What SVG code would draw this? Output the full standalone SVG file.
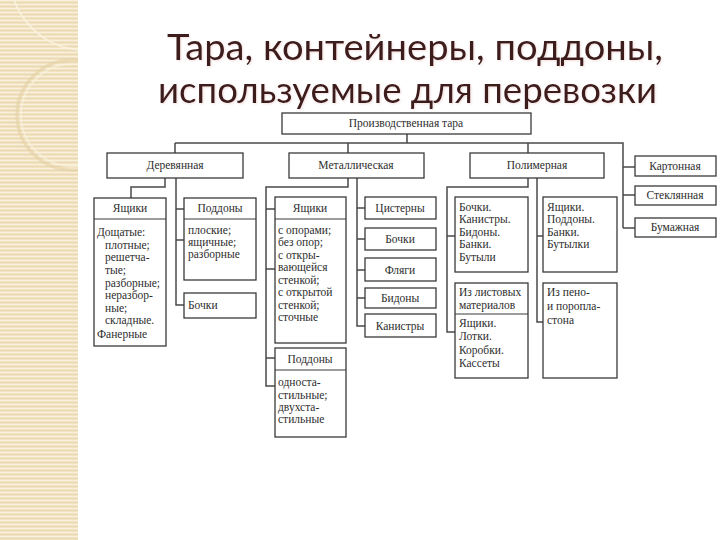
<svg xmlns="http://www.w3.org/2000/svg" width="720" height="540" viewBox="0 0 720 540">
<defs>
<pattern id="stripe" width="8" height="4" patternUnits="userSpaceOnUse">
<rect width="8" height="4" fill="#F1E3C3"/>
<rect y="0" width="8" height="1" fill="#F9F0DC"/>
<rect y="2" width="8" height="1" fill="#E9D8B0"/>
</pattern>
<clipPath id="strip"><rect x="0" y="0" width="78" height="540"/></clipPath>
<filter id="sh" x="-5%" y="-20%" width="110%" height="140%">
<feDropShadow dx="1" dy="1" stdDeviation="1" flood-color="#D9A0A0" flood-opacity="0.35"/>
</filter>
</defs>
<style>
.box{fill:#fff;stroke:#3a3a3a;stroke-width:1.3}
.sep{stroke:#3a3a3a;stroke-width:1.2;fill:none}
.con{fill:none;stroke:#4a4a4a;stroke-width:1.5}
.t{font-family:"Liberation Serif","DejaVu Serif",serif;font-size:11.5px;fill:#2e2e2e}
.c{text-anchor:middle}
.title{font-family:Lato,"Open Sans","Liberation Sans",sans-serif;font-size:36px;fill:#3E1B1B}
</style>
<rect width="720" height="540" fill="#fff"/>
<g id="decor">
<rect x="0" y="0" width="78" height="540" fill="url(#stripe)"/>
<g clip-path="url(#strip)">
<circle cx="72" cy="115" r="55" fill="none" stroke="#E6D3A8" stroke-width="3" opacity="0.7"/>
<circle cx="72" cy="115" r="51" fill="none" stroke="#FAF2DF" stroke-width="1.5" opacity="0.8"/>
<circle cx="85" cy="-25" r="75" fill="none" stroke="#FAF2DF" stroke-width="2" opacity="0.8"/>
</g>
</g>
<g id="title" filter="url(#sh)">
<text class="title" x="167" y="60" textLength="496" lengthAdjust="spacingAndGlyphs">Тара, контейнеры, поддоны,</text>
<text class="title" x="158" y="103" textLength="499" lengthAdjust="spacingAndGlyphs">используемые для перевозки</text>
</g>
<g id="connectors">
<path class="con" d="M407 134V143M175 143H623V228M175 143V153M348 143V153M528 143V153M623 167H635M623 195H635M623 228H635"/>
<path class="con" d="M165 178V187H131V198M176 178V305H184M176 209H184M176 240H184"/>
<path class="con" d="M348 178V187H266V386H275M266 209H275M266 269H275M266 358H275M357 178V326H365M357 208H365M357 239H365M357 270H365M357 298H365"/>
<path class="con" d="M528 178V187H447V332H455M447 236H455M537 178V322H543M537 236H543"/>
</g>
<g id="n-root"><rect class="box" x="282" y="113" width="249" height="21"/><text class="t c" x="406" y="127">Производственная тара</text></g>
<g id="n-wood"><rect class="box" x="107" y="153" width="136" height="25"/><text class="t c" x="175" y="169">Деревянная</text></g>
<g id="n-metal"><rect class="box" x="289" y="153" width="135" height="25"/><text class="t c" x="356" y="169">Металлическая</text></g>
<g id="n-poly"><rect class="box" x="470" y="153" width="134" height="25"/><text class="t c" x="537" y="169">Полимерная</text></g>
<g id="n-karton"><rect class="box" x="635" y="156" width="81" height="20"/><text class="t c" x="675" y="170">Картонная</text></g>
<g id="n-steklo"><rect class="box" x="635" y="186" width="81" height="19"/><text class="t c" x="675" y="199">Стеклянная</text></g>
<g id="n-bumaga"><rect class="box" x="635" y="218" width="81" height="19"/><text class="t c" x="675" y="231">Бумажная</text></g>
<g id="n-wood-box">
<rect class="box" x="94" y="198" width="72" height="148"/><path class="sep" d="M94 219H166"/>
<text class="t c" x="130" y="212">Ящики</text>
<text class="t" x="97" y="236">Дощатые:</text>
<text class="t" x="105" y="249">плотные;</text>
<text class="t" x="105" y="261">решетча-</text>
<text class="t" x="105" y="274">тые;</text>
<text class="t" x="105" y="287">разборные;</text>
<text class="t" x="105" y="299">неразбор-</text>
<text class="t" x="105" y="312">ные;</text>
<text class="t" x="105" y="324">складные.</text>
<text class="t" x="97" y="338">Фанерные</text>
</g>
<g id="n-wood-pallet">
<rect class="box" x="184" y="198" width="72" height="82"/><path class="sep" d="M184 219H256"/>
<text class="t c" x="220" y="212">Поддоны</text>
<text class="t" x="188" y="234">плоские;</text>
<text class="t" x="188" y="246">ящичные;</text>
<text class="t" x="188" y="258">разборные</text>
</g>
<g id="n-wood-barrel"><rect class="box" x="184" y="293" width="72" height="25"/><text class="t" x="188" y="309">Бочки</text></g>
<g id="n-metal-box">
<rect class="box" x="275" y="197" width="71" height="146"/><path class="sep" d="M275 219H346"/>
<text class="t c" x="310" y="212">Ящики</text>
<text class="t" x="278" y="234">с опорами;</text>
<text class="t" x="278" y="246">без опор;</text>
<text class="t" x="278" y="259">с откры-</text>
<text class="t" x="278" y="271">вающейся</text>
<text class="t" x="278" y="284">стенкой;</text>
<text class="t" x="278" y="296">с открытой</text>
<text class="t" x="278" y="309">стенкой;</text>
<text class="t" x="278" y="321">сточные</text>
</g>
<g id="n-metal-pallet">
<rect class="box" x="275" y="348" width="71" height="89"/><path class="sep" d="M275 370H346"/>
<text class="t c" x="310" y="363">Поддоны</text>
<text class="t" x="278" y="386">односта-</text>
<text class="t" x="278" y="399">стильные;</text>
<text class="t" x="278" y="411">двухста-</text>
<text class="t" x="278" y="423">стильные</text>
</g>
<g id="n-cistern"><rect class="box" x="365" y="197" width="71" height="22"/><text class="t c" x="400" y="212">Цистерны</text></g>
<g id="n-metal-barrel"><rect class="box" x="365" y="228" width="71" height="22"/><text class="t c" x="400" y="243">Бочки</text></g>
<g id="n-flask"><rect class="box" x="365" y="258" width="71" height="23"/><text class="t c" x="400" y="274">Фляги</text></g>
<g id="n-can"><rect class="box" x="365" y="288" width="71" height="20"/><text class="t c" x="400" y="302">Бидоны</text></g>
<g id="n-canister"><rect class="box" x="365" y="314" width="71" height="23"/><text class="t c" x="400" y="330">Канистры</text></g>
<g id="n-poly-a">
<rect class="box" x="455" y="197" width="73" height="75"/>
<text class="t" x="459" y="211">Бочки.</text>
<text class="t" x="459" y="223">Канистры.</text>
<text class="t" x="459" y="236">Бидоны.</text>
<text class="t" x="459" y="248">Банки.</text>
<text class="t" x="459" y="261">Бутыли</text>
</g>
<g id="n-poly-sheet">
<rect class="box" x="455" y="283" width="73" height="95"/><path class="sep" d="M455 314H528"/>
<text class="t" x="459" y="296">Из листовых</text>
<text class="t" x="459" y="309">материалов</text>
<text class="t" x="459" y="327">Ящики.</text>
<text class="t" x="459" y="340">Лотки.</text>
<text class="t" x="459" y="354">Коробки.</text>
<text class="t" x="459" y="367">Кассеты</text>
</g>
<g id="n-poly-b">
<rect class="box" x="543" y="197" width="74" height="75"/>
<text class="t" x="547" y="211">Ящики.</text>
<text class="t" x="547" y="223">Поддоны.</text>
<text class="t" x="547" y="236">Банки.</text>
<text class="t" x="547" y="248">Бутылки</text>
</g>
<g id="n-poly-foam">
<rect class="box" x="543" y="283" width="74" height="95"/>
<text class="t" x="547" y="296">Из пено-</text>
<text class="t" x="547" y="310">и поропла-</text>
<text class="t" x="547" y="324">стона</text>
</g>
</svg>
